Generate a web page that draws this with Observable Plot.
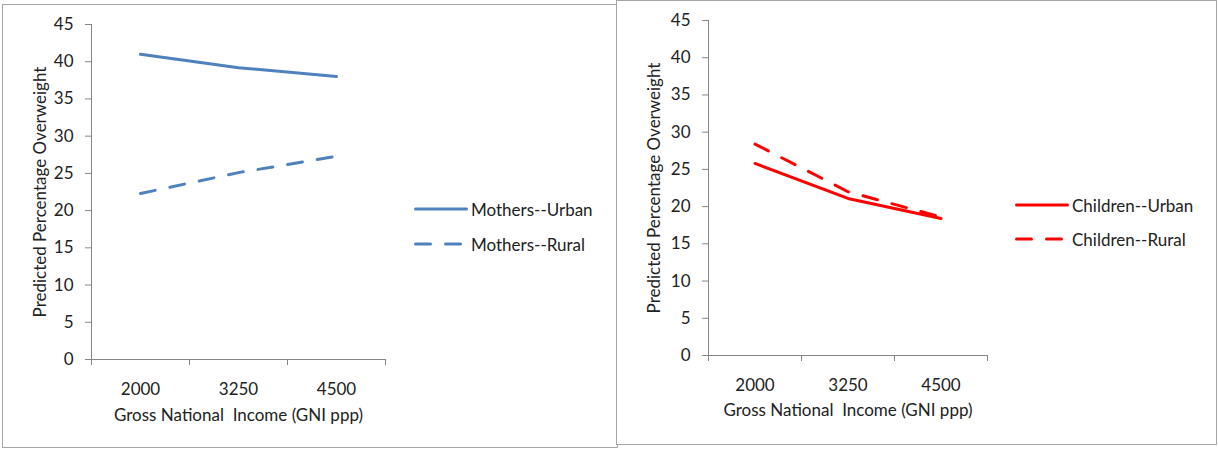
<!DOCTYPE html>
<html>
<head>
<meta charset="utf-8">
<script src="https://cdn.jsdelivr.net/npm/d3@7"></script>
<script src="https://cdn.jsdelivr.net/npm/@observablehq/plot@0.6"></script>
<style>
  body { margin: 0; background: #fff; width: 1218px; height: 449px; overflow: hidden; position: relative; font-family: Lato, sans-serif; color: #222; }
  .panel { position: absolute; background: #fff; border: 1px solid #a6a6a6; }
  .panel svg { position: absolute; left: 0; top: 0; }
  .panel svg text { white-space: pre; }
  .legend-row { position: absolute; height: 20px; display: flex; align-items: center; white-space: nowrap; font-size: 17px; }
  .legend-row svg { flex: none; }
  .legend-row span { margin-left: 3px; }
</style>
</head>
<body>
<div id="mothers" class="panel" style="left:2px;top:4px;width:614px;height:442px"></div>
<div id="children" class="panel" style="left:616px;top:0px;width:599px;height:443px"></div>
<script>
// GNI categories on the x axis
const incomeLabels = ["2000", "3250", "4500"];

// Predicted percentage overweight, by group
const mothersUrban = [41.0, 39.2, 38.0];
const mothersRural = [22.3, 25.1, 27.3];
const childrenUrban = [25.8, 21.1, 18.4];
const childrenRural = [28.4, 22.0, 18.6];

const yTicks = [0, 5, 10, 15, 20, 25, 30, 35, 40, 45];
const xTitle = "Gross National  Income (GNI ppp)";
const yTitle = "Predicted Percentage Overweight";

const axisGrey = "#868686";
const dashPattern = "15,15";

function drawPanel(el, opts) {
  const {width, height, marginLeft, marginRight, marginTop, marginBottom, color, series, xTitleDy, yTitleDx} = opts;
  const n = incomeLabels.length;
  const indices = d3.range(n);
  const boundaries = d3.range(n + 1).map(i => i - 0.5);
  const chart = Plot.plot({
    width, height, marginLeft, marginRight, marginTop, marginBottom,
    style: {fontFamily: "Lato, sans-serif", fontSize: "17px", color: "#222", background: "transparent", overflow: "visible"},
    x: {domain: [-0.5, n - 0.5], label: null},
    y: {domain: [0, 45], label: null},
    marks: [
      Plot.ruleY([0], {stroke: axisGrey}),
      Plot.ruleX([boundaries[0]], {stroke: axisGrey}),
      Plot.axisX(boundaries, {tickSize: 6, tickFormat: () => "", stroke: axisGrey, label: null}),
      Plot.axisX(indices, {tickSize: 0, tickPadding: 23, tickFormat: i => incomeLabels[i], label: null}),
      Plot.axisY(yTicks, {tickSize: 6, tickPadding: 12, stroke: axisGrey, label: null}),
      ...series.map(s => Plot.line(indices, {
        x: i => i,
        y: i => s.values[i],
        stroke: color,
        strokeWidth: 3,
        strokeLinecap: "round",
        strokeLinejoin: "round",
        strokeDasharray: s.dashed ? dashPattern : null
      })),
      Plot.text([xTitle], {frameAnchor: "bottom", lineAnchor: "middle", textAnchor: "middle", dy: xTitleDy, text: d => d, fill: "#222"}),
      Plot.text([yTitle], {frameAnchor: "left", lineAnchor: "middle", textAnchor: "middle", rotate: -90, dx: yTitleDx, text: d => d, fill: "#222"})
    ]
  });
  el.appendChild(chart);
}

function legendRow(parent, left, top, color, dashed, label) {
  const row = document.createElement("div");
  row.className = "legend-row";
  row.style.left = left + "px";
  row.style.top = (top - 10) + "px";
  row.innerHTML =
    `<svg width="54" height="20"><line x1="1.5" x2="52.5" y1="10" y2="10" stroke="${color}" stroke-width="3" stroke-linecap="round"${dashed ? ` stroke-dasharray="${dashPattern}"` : ""}></line></svg><span>${label}</span>`;
  parent.appendChild(row);
}

const blue = "#4f81bd";
const red = "#ff0000";

drawPanel(document.getElementById("mothers"), {
  width: 614, height: 442,
  marginLeft: 88, marginRight: 232, marginTop: 19, marginBottom: 88,
  color: blue,
  series: [{values: mothersUrban, dashed: false}, {values: mothersRural, dashed: true}],
  xTitleDy: 56, yTitleDx: -51
});

drawPanel(document.getElementById("children"), {
  width: 599, height: 443,
  marginLeft: 91, marginRight: 229, marginTop: 19, marginBottom: 89,
  color: red,
  series: [{values: childrenUrban, dashed: false}, {values: childrenRural, dashed: true}],
  xTitleDy: 55, yTitleDx: -54
});

legendRow(document.body, 414, 209, blue, false, "Mothers--Urban");
legendRow(document.body, 414, 244, blue, true, "Mothers--Rural");
legendRow(document.body, 1015, 205, red, false, "Children--Urban");
legendRow(document.body, 1015, 239, red, true, "Children--Rural");
</script>
</body>
</html>
